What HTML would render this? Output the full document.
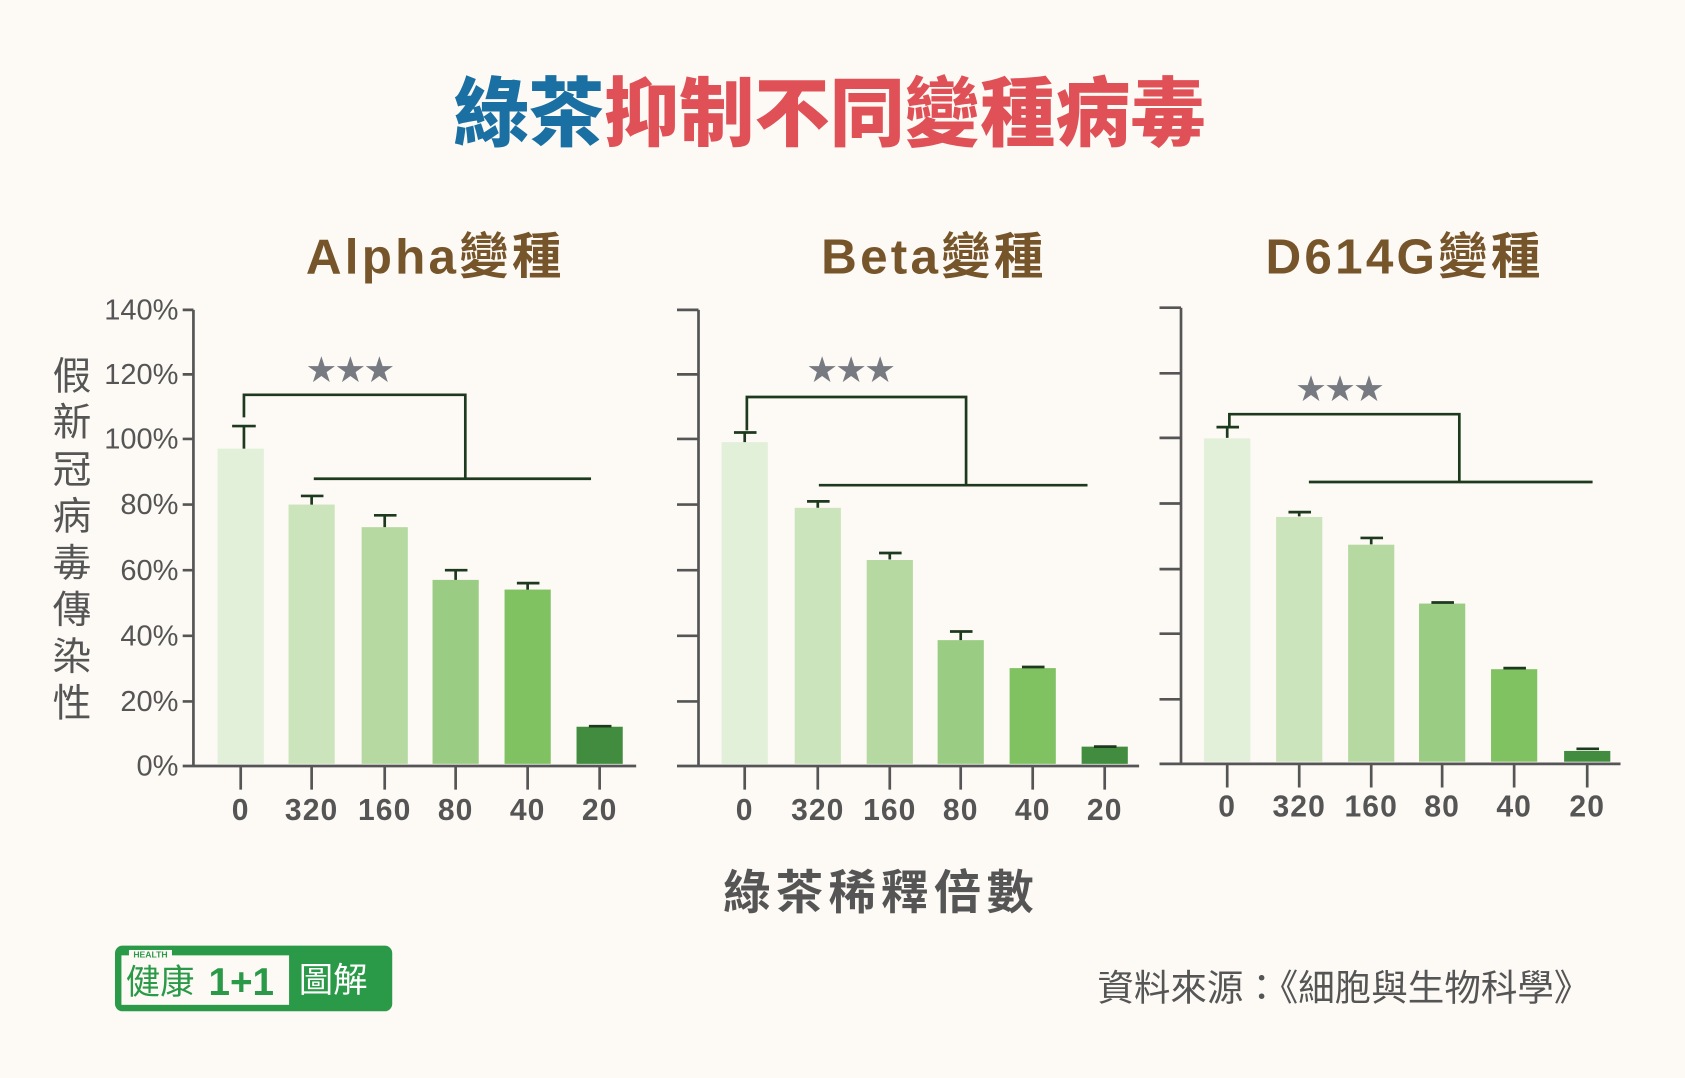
<!DOCTYPE html>
<html><head><meta charset="utf-8"><style>
html,body{margin:0;padding:0;background:#fdfaf6;}
svg{display:block;}
text{font-family:"Liberation Sans","Noto Sans CJK TC",sans-serif;}
.cj{font-family:"Noto Sans CJK TC","Noto Sans CJK SC",sans-serif;}
</style></head><body>
<svg width="1685" height="1078" viewBox="0 0 1568 1002" preserveAspectRatio="none" xmlns="http://www.w3.org/2000/svg">
<rect width="1568" height="1002" fill="#fdfaf6"/>
<text class="cj" x="772" y="130" text-anchor="middle" font-size="70" font-weight="900"><tspan fill="#1a6fa3">綠茶</tspan><tspan fill="#e05157">抑制不同變種病毒</tspan></text>
<g class="cj" font-size="46" font-weight="700" fill="#76552b" text-anchor="middle" letter-spacing="3">
<text x="405" y="254">Alpha變種</text>
<text x="869" y="254">Beta變種</text>
<text x="1307" y="254">D614G變種</text>
</g>
<g class="cj" font-size="36" fill="#555" text-anchor="middle">
<text x="67" y="362">假</text><text x="67" y="405">新</text><text x="67" y="449">冠</text><text x="67" y="492">病</text><text x="67" y="536">毒</text><text x="67" y="579">傳</text><text x="67" y="623">染</text><text x="67" y="666">性</text>
</g>
<g class="cj" font-size="27" fill="#555" text-anchor="end">
<text x="166" y="297">140%</text><text x="166" y="357">120%</text><text x="166" y="417">100%</text><text x="166" y="478">80%</text><text x="166" y="539">60%</text><text x="166" y="600">40%</text><text x="166" y="661">20%</text><text x="166" y="721">0%</text>
</g>
<g stroke="#555" stroke-width="2.5" fill="none">
<path d="M180 288V712H592M170 288H180M170 348H180M170 408H180M170 469H180M170 530H180M170 591H180M170 652H180M170 712H180"/>
<path d="M224 712V734M290 712V734M358 712V734M424 712V734M491 712V734M558 712V734"/>
<path d="M650 288V712H1060M630 288H650M630 348H650M630 408H650M630 469H650M630 530H650M630 591H650M630 652H650M630 712H650"/>
<path d="M693 712V734M761 712V734M828 712V734M894 712V734M961 712V734M1028 712V734"/>
<path d="M1099 286V710H1508M1079 286H1099M1079 347H1099M1079 407H1099M1079 468H1099M1079 529H1099M1079 589H1099M1079 650H1099M1079 710H1099"/>
<path d="M1142 710V732M1209 710V732M1276 710V732M1342 710V732M1409 710V732M1477 710V732"/>
</g>
<g>
<rect x="202.5" y="417" width="43" height="293" fill="#e2efd9"/>
<rect x="268.5" y="469" width="43" height="241" fill="#cce4bb"/>
<rect x="336.5" y="490" width="43" height="220" fill="#b5d9a0"/>
<rect x="402.5" y="539" width="43" height="171" fill="#9bcc83"/>
<rect x="469.5" y="548" width="43" height="162" fill="#80c262"/>
<rect x="536.5" y="675.5" width="43" height="34.5" fill="#418c3e"/>
<rect x="671.5" y="411" width="43" height="299" fill="#e2efd9"/>
<rect x="739.5" y="472" width="43" height="238" fill="#cce4bb"/>
<rect x="806.5" y="520.5" width="43" height="189.5" fill="#b5d9a0"/>
<rect x="872.5" y="595" width="43" height="115" fill="#9bcc83"/>
<rect x="939.5" y="621" width="43" height="89" fill="#80c262"/>
<rect x="1006.5" y="694" width="43" height="16" fill="#418c3e"/>
<rect x="1120.5" y="407.5" width="43" height="300.5" fill="#e2efd9"/>
<rect x="1187.5" y="480.5" width="43" height="227.5" fill="#cce4bb"/>
<rect x="1254.5" y="506.3" width="43" height="201.7" fill="#b5d9a0"/>
<rect x="1320.5" y="561" width="43" height="147" fill="#9bcc83"/>
<rect x="1387.5" y="622" width="43" height="86" fill="#80c262"/>
<rect x="1455.5" y="698" width="43" height="10" fill="#418c3e"/>
</g>
<g stroke="#1e3a1e" stroke-width="2.5" fill="none">
<path d="M227 417V396M216 396H238M290 469V461M280 461H301M358 490V479M348 479H369M424 539V530M414 530H435M491 548V542M481 542H502M558 675H548M558 675H569"/>
<path d="M693 411V402M683 402H704M761 472V466M751 466H772M828 520V514M818 514H839M894 595V587M884 587H905M951 620H972M1018 694H1039"/>
<path d="M1142 407V397M1132 397H1153M1209 480V476M1199 476H1220M1276 506V500M1266 500H1287M1332 560H1353M1399 621H1420M1467 696H1488"/>
<path d="M227 388V367H433V445M292 445H550"/>
<path d="M695 400V369H899V451M762 451H1012"/>
<path d="M1144 396V385H1358V448M1218 448H1482"/>
</g>
<g font-size="27" fill="#777a80" text-anchor="middle" class="cj">
<text x="326" y="353">★★★</text>
<text x="792" y="353">★★★</text>
<text x="1247" y="371">★★★</text>
</g>
<g class="cj" font-size="28" font-weight="700" fill="#555" text-anchor="middle" letter-spacing="1">
<text x="224" y="762">0</text><text x="290" y="762">320</text><text x="358" y="762">160</text><text x="424" y="762">80</text><text x="491" y="762">40</text><text x="558" y="762">20</text>
<text x="693" y="762">0</text><text x="761" y="762">320</text><text x="828" y="762">160</text><text x="894" y="762">80</text><text x="961" y="762">40</text><text x="1028" y="762">20</text>
<text x="1142" y="759">0</text><text x="1209" y="759">320</text><text x="1276" y="759">160</text><text x="1342" y="759">80</text><text x="1409" y="759">40</text><text x="1477" y="759">20</text>
</g>
<text class="cj" x="820" y="845" text-anchor="middle" font-size="44" font-weight="700" fill="#555" letter-spacing="5">綠茶稀釋倍數</text>
<text class="cj" x="1480" y="930" text-anchor="end" font-size="34" fill="#555">資料來源：《細胞與生物科學》</text>
<g>
<rect x="107" y="879" width="258" height="61" rx="7" fill="#2a9a48"/>
<rect x="113" y="888" width="156" height="46" fill="#fdfaf6"/>
<rect x="120" y="883" width="40" height="8" fill="#fdfaf6"/>
<text x="140" y="890" text-anchor="middle" font-size="8" font-weight="700" fill="#2a9a48">HEALTH</text>
<text class="cj" x="117" y="924" font-size="32" fill="#2a9a48">健康</text>
<text x="194" y="925" font-size="36" font-weight="900" fill="#2a9a48">1+1</text>
<text class="cj" x="278" y="922" font-size="32" fill="#fff">圖解</text>
</g>
</svg>
</body></html>
